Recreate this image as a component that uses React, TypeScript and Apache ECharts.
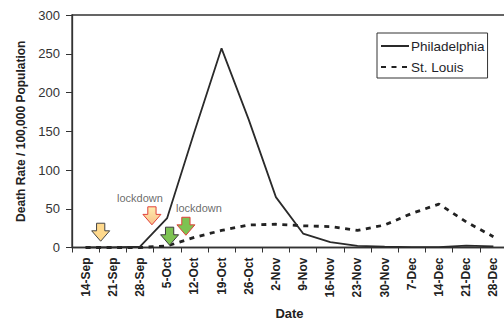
import React, { useEffect, useRef } from "react";
import * as echarts from "echarts";

const categories = [
  "14-Sep", "21-Sep", "28-Sep", "5-Oct", "12-Oct", "19-Oct", "26-Oct", "2-Nov",
  "9-Nov", "16-Nov", "23-Nov", "30-Nov", "7-Dec", "14-Dec", "21-Dec", "28-Dec",
];
const philadelphia = [0, 0, 1, 38, 149, 257, 165, 65, 18, 7, 2, 1, 0.5, 0.5, 2.5, 1.5];
const stLouis = [0, 0, 0, 2, 13, 22, 29, 30, 28, 27, 22, 29, 44, 56, 33, 14];

// annotation arrows: [week index (fractional), death rate]
const arrowX = [0.555, 2.44, 3.09, 3.69];
const arrowY = [19.7, 40.9, 14.6, 27.4];
const noteX = [2.0, 4.17];
const noteY = [63.5, 50.6];
const noteText = ["lockdown", "lockdown"];

const FONT = 'Arial, "Liberation Sans", sans-serif';
const ARROW = "path://M4.6,0 L12.4,0 L12.4,8 L17,8 L8.5,19 L0,8 L4.6,8 Z";

const arrowStyles = [
  { color: "#FFD98C", borderColor: "#444444" },
  {
    color: new echarts.graphic.LinearGradient(0, 0, 0, 1, [
      { offset: 0, color: "#FFEDB0" },
      { offset: 1, color: "#F8C088" },
    ]),
    borderColor: "#E0403A",
  },
  { color: "#7DC352", borderColor: "#3A3A3A" },
  { color: "#7DC352", borderColor: "#E0403A" },
];

export default function App() {
  const ref = useRef<HTMLDivElement>(null);
  useEffect(() => {
    document.body.style.margin = "0";
    const chart = echarts.init(ref.current!, null, { renderer: "svg" });
    chart.setOption({
      animation: false,
      backgroundColor: "#ffffff",
      textStyle: { fontFamily: FONT },
      grid: {
        left: 72, top: 15, right: -3, bottom: 72.5,
        outerBoundsMode: "none",
        containLabel: false,
        show: true, borderColor: "#333", borderWidth: 1.3, backgroundColor: "transparent",
      },
      legend: {
        data: ["Philadelphia", "St. Louis"],
        orient: "vertical",
        left: 377, top: 33,
        padding: [6, 3, 4, 3],
        itemGap: 7, itemWidth: 28, itemHeight: 14,
        itemStyle: { color: "rgba(0,0,0,0)", borderWidth: 0 },
        borderColor: "#333", borderWidth: 1, borderRadius: 0,
        backgroundColor: "#fff",
        textStyle: { fontFamily: FONT, fontSize: 13.5, color: "#1f1f2a", padding: [0, 0, 0, -3] },
      },
      xAxis: [
        {
          type: "category",
          data: categories,
          boundaryGap: true,
          name: "Date",
          nameLocation: "middle",
          nameGap: 59,
          nameTextStyle: { fontFamily: FONT, fontSize: 13, fontWeight: "bold", color: "#222" },
          axisLine: { lineStyle: { color: "#333", width: 1.3 } },
          axisTick: { show: true, length: 5, interval: 0, lineStyle: { color: "#333" } },
          axisLabel: {
            rotate: 90, interval: 0, margin: 10,
            fontFamily: FONT, fontSize: 12, fontWeight: "bold", color: "#222",
          },
          splitLine: { show: false },
        },
        { type: "value", min: -0.5, max: 15.5, show: false },
      ],
      yAxis: {
        type: "value",
        min: 0, max: 300, interval: 50,
        name: "Death Rate / 100,000 Population",
        nameLocation: "middle",
        nameGap: 44,
        nameTextStyle: { fontFamily: FONT, fontSize: 12, fontWeight: "bold", color: "#222" },
        axisLine: { show: true, onZero: false, lineStyle: { color: "#333", width: 1.3 } },
        axisTick: { show: true, length: 6, lineStyle: { color: "#333" } },
        axisLabel: { margin: 12, fontFamily: FONT, fontSize: 13, color: "#333" },
        splitLine: { show: false },
      },
      series: [
        {
          name: "Philadelphia",
          type: "line",
          data: philadelphia,
          symbol: "none",
          color: "#2a2a2a",
          lineStyle: { color: "#2a2a2a", width: 1.8 },
          z: 3,
        },
        {
          name: "St. Louis",
          type: "line",
          data: stLouis,
          symbol: "none",
          color: "#222",
          lineStyle: { color: "#222", width: 2.8, type: [5, 5.5] },
          z: 2,
        },
        {
          name: "arrows",
          type: "scatter",
          xAxisIndex: 1,
          symbol: ARROW,
          symbolSize: [18, 18],
          z: 5,
          data: arrowX.map((x, i) => ({
            value: [x, arrowY[i]],
            itemStyle: { ...arrowStyles[i], borderWidth: 1, opacity: 1 },
          })),
        },
        {
          name: "notes",
          type: "scatter",
          xAxisIndex: 1,
          symbolSize: 0,
          itemStyle: { color: "#444" },
          z: 6,
          label: {
            show: true,
            position: [0, 0],
            align: "center",
            verticalAlign: "middle",
            formatter: (p: any) => noteText[p.dataIndex],
            fontFamily: FONT, fontSize: 11, color: "#444",
            textBorderWidth: 0,
          },
          data: noteX.map((x, i) => [x, noteY[i]]),
        },
      ],
    });
    return () => chart.dispose();
  }, []);
  return <div ref={ref} style={{ width: 504, height: 320 }} />;
}
